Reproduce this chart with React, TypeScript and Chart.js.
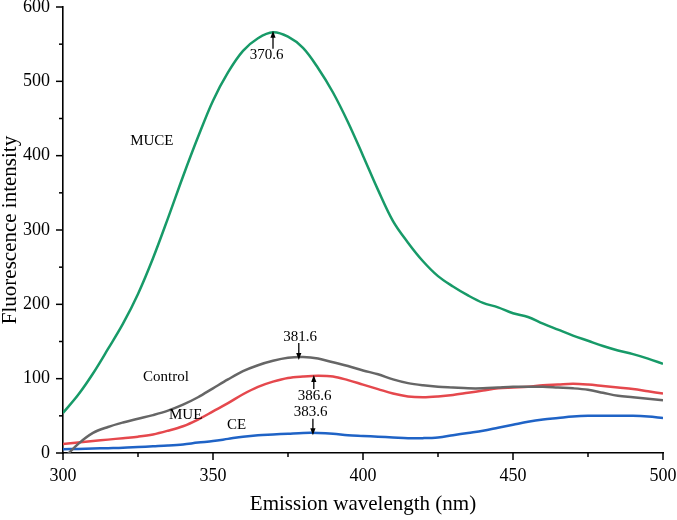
import React, { useEffect, useRef } from 'react';
import { Chart, registerables } from 'chart.js';

Chart.register(...registerables);

// ---- data ----
const wavelengths = [300, 305, 310, 315, 320, 325, 330, 335, 340, 345, 350, 355, 360, 365, 370, 375, 380, 385, 390, 395, 400, 405, 410, 415, 420, 425, 430, 435, 440, 445, 450, 455, 460, 465, 470, 475, 480, 485, 490, 495, 500];
const muce = [54, 78, 107, 140, 174, 214, 262, 316, 372, 425, 474, 512, 541, 558, 566, 560, 545, 518, 485, 445, 400, 354, 312, 283, 258, 238, 224, 212, 202, 196, 188, 183, 174, 166, 158, 151, 144, 138, 133, 127, 120];
const control = [-8, 12, 27, 35, 41, 46, 51, 57, 65, 75, 87, 99, 110, 118, 124, 128, 129, 127, 122, 117, 111, 106, 99, 94, 91, 89, 88, 87, 87, 88, 89, 89, 89, 88, 87, 85, 81, 77, 75, 73, 71];
const mue = [12, 14, 16, 18, 20, 22, 25, 30, 36, 45, 56, 67, 79, 89, 96, 101, 103, 104, 103, 98, 92, 86, 80, 76, 75, 76, 78, 81, 84, 87, 88, 89, 91, 92, 93, 92, 90, 88, 86, 83, 80];
const ce = [5, 5.5, 6, 6.5, 7, 8, 9, 10, 11.5, 14, 16, 19, 22, 24, 25, 26, 27, 27, 26, 24, 23, 22, 21, 20, 20, 21, 24, 27, 30, 34, 38, 42, 45, 47, 49, 50, 50, 50, 50, 49, 47];

const seriesNames = ['MUCE', 'Control', 'MUE', 'CE'];
const seriesColors = ['#179a68', '#666666', '#e5484d', '#1f63c6'];

// curve labels (data coordinates)
const curveLabelX = [329.6, 334.3, 340.9, 357.9];
const curveLabelY = [419, 102, 51, 37];

// peak annotations (data coordinates)
const peakTexts = ['370.6', '381.6', '386.6', '383.6'];
const peakTextX = [367.9, 379, 383.9, 382.5];
const peakTextY = [535, 156, 76, 54.5];
const arrowX = [370.0, 378.6, 383.6, 383.3];
const arrowFrom = [544, 148, 86, 46];
const arrowTo = [568, 125, 105, 24];

const xTitle = 'Emission wavelength (nm)';
const yTitle = 'Fluorescence intensity';
const xMin = 300, xMax = 500, xMajor = 50, xMinor = 25;
const yMin = 0, yMax = 600, yMajor = 100, yMinor = 50;

const FONT = '"Liberation Serif", "Times New Roman", Times, serif';

const overlayPlugin = {
  id: 'overlay',
  afterDraw(chart: any) {
    const { ctx, chartArea } = chart;
    const x = chart.scales.x;
    const y = chart.scales.y;
    ctx.save();
    ctx.strokeStyle = '#000';
    ctx.fillStyle = '#000';
    ctx.lineWidth = 1.5;
    // x ticks (outward)
    for (let v = xMin; v <= xMax; v += xMinor) {
      const px = x.getPixelForValue(v);
      const len = (v - xMin) % xMajor === 0 ? 7 : 4;
      ctx.beginPath();
      ctx.moveTo(px, chartArea.bottom);
      ctx.lineTo(px, chartArea.bottom + len);
      ctx.stroke();
    }
    // y ticks (outward)
    for (let v = yMin; v <= yMax; v += yMinor) {
      const py = y.getPixelForValue(v);
      const len = (v - yMin) % yMajor === 0 ? 7 : 4;
      ctx.beginPath();
      ctx.moveTo(chartArea.left, py);
      ctx.lineTo(chartArea.left - len, py);
      ctx.stroke();
    }
    // curve labels
    ctx.font = `15px ${FONT}`;
    ctx.textAlign = 'center';
    ctx.textBaseline = 'middle';
    for (let i = 0; i < seriesNames.length; i++) {
      ctx.fillText(seriesNames[i], x.getPixelForValue(curveLabelX[i]), y.getPixelForValue(curveLabelY[i]));
    }
    // peak labels + arrows
    for (let i = 0; i < peakTexts.length; i++) {
      ctx.fillText(peakTexts[i], x.getPixelForValue(peakTextX[i]), y.getPixelForValue(peakTextY[i]));
      const ax = x.getPixelForValue(arrowX[i]);
      const y0 = y.getPixelForValue(arrowFrom[i]);
      const y1 = y.getPixelForValue(arrowTo[i]);
      const dir = y1 > y0 ? 1 : -1;
      ctx.lineWidth = 1.3;
      ctx.beginPath();
      ctx.moveTo(ax, y0);
      ctx.lineTo(ax, y1 - dir * 5);
      ctx.stroke();
      ctx.beginPath();
      ctx.moveTo(ax, y1);
      ctx.lineTo(ax - 2.6, y1 - dir * 7);
      ctx.lineTo(ax + 2.6, y1 - dir * 7);
      ctx.closePath();
      ctx.fill();
    }
    ctx.restore();
  },
};

export default function App() {
  const ref = useRef<HTMLCanvasElement>(null);
  useEffect(() => {
    document.body.style.margin = '0';
    const datasets = [muce, control, mue, ce].map((vals, i) => ({
      label: seriesNames[i],
      data: vals,
      borderColor: seriesColors[i],
      backgroundColor: seriesColors[i],
      borderWidth: 2.5,
      pointRadius: 0,
      tension: 0.35,
      fill: false,
    }));
    const chart = new Chart(ref.current as HTMLCanvasElement, {
      type: 'line',
      data: {
        datasets: datasets.map((d) => ({
          ...d,
          data: d.data.map((v, j) => ({ x: wavelengths[j], y: v })),
        })),
      },
      options: {
        responsive: false,
        animation: false,
        devicePixelRatio: 1,
        layout: { padding: { left: 0, right: 14, top: 7, bottom: 0 } },
        plugins: { legend: { display: false }, tooltip: { enabled: false } },
        scales: {
          x: {
            type: 'linear',
            min: xMin,
            max: xMax,
            grid: { display: false, drawTicks: false },
            border: { display: true, color: '#000', width: 1.6 },
            ticks: {
              stepSize: xMajor,
              padding: 12,
              color: '#000',
              font: { family: FONT, size: 18 },
              maxRotation: 0,
            },
            title: {
              display: true,
              text: xTitle,
              color: '#000',
              font: { family: FONT, size: 21 },
              padding: { top: 0, bottom: 2.5 },
            },
            afterFit: (s: any) => {
              s.height = 67;
              s.paddingLeft = 0;
              s.paddingRight = 0;
            },
          },
          y: {
            type: 'linear',
            min: yMin,
            max: yMax,
            grid: { display: false, drawTicks: false },
            border: { display: true, color: '#000', width: 1.6 },
            ticks: {
              stepSize: yMajor,
              padding: 13,
              color: '#000',
              font: { family: FONT, size: 18 },
            },
            title: {
              display: true,
              text: yTitle,
              color: '#000',
              font: { family: FONT, size: 21, lineHeight: 1 },
              padding: { top: 0, bottom: 0 },
            },
            afterFit: (s: any) => {
              s.width = 63;
              s.paddingTop = 0;
              s.paddingBottom = 0;
            },
          },
        },
      },
      plugins: [overlayPlugin],
    });
    return () => chart.destroy();
  }, []);
  return (
    <div style={{ width: 677, height: 520, background: '#fff' }}>
      <canvas ref={ref} width={677} height={520} />
    </div>
  );
}
